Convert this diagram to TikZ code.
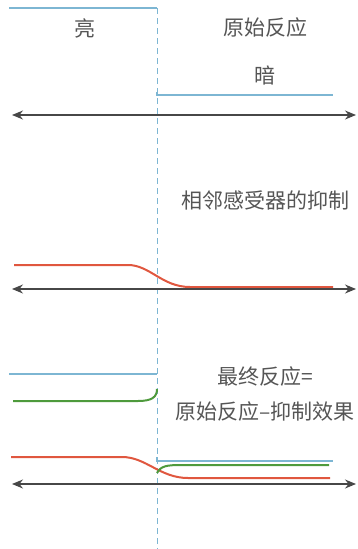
\documentclass[tikz,border=0pt]{standalone}
\usepackage{fontspec}
\newfontfamily\cjk{Noto Sans CJK SC}
\usetikzlibrary{arrows.meta}
\definecolor{lblue}{HTML}{7DB6D3}
\definecolor{rred}{HTML}{E0573F}
\definecolor{ggreen}{HTML}{4E9A3C}
\definecolor{axisc}{HTML}{474747}
\definecolor{txtc}{HTML}{555555}
\tikzset{
  blueline/.style={lblue, line width=1.4pt},
  redline/.style={rred, line width=2pt},
  greenline/.style={ggreen, line width=2pt},
  axisline/.style={axisc, line width=1.2pt, {Stealth[length=11pt,width=9pt]}-{Stealth[length=11pt,width=9pt]}},
  divline/.style={lblue, line width=0.8pt, dash pattern=on 6pt off 4pt},
  lbl/.style={text=txtc, font=\cjk\fontsize{21}{25}\selectfont, inner sep=0pt}
}
\begin{document}
\begin{tikzpicture}[x=1pt,y=-1pt]
\useasboundingbox (0,0) rectangle (358,549);
% divider
\coordinate (dtop) at (157,8);
\coordinate (dbot) at (157,549);
\draw[divline] (dtop) -- (dbot);
% section 1
\draw[blueline] (9,8) -- (157,8);
\draw[blueline] (157,92) -- (157,95) -- (333,95);
\node[lbl] (bright) at (85,28) {亮};
\node[lbl] (orig) at (265,28) {原始反应};
\node[lbl] (dark) at (265,75) {暗};
\coordinate (a1l) at (12,115);
\coordinate (a1r) at (356,115);
\draw[axisline] (a1l) -- (a1r);
% section 2
\node[lbl] (inhib) at (265,200) {相邻感受器的抑制};
\draw[redline] (14,265) -- (128,265) .. controls (150,265) and (162,287) .. (190,287) -- (333,287);
\coordinate (a2l) at (12,289);
\coordinate (a2r) at (356,289);
\draw[axisline] (a2l) -- (a2r);
% section 3
\draw[blueline] (9,374) -- (157,374);
\draw[greenline] (13,401) -- (138,401) .. controls (152,401) and (157,397) .. (157,389);
\node[lbl] (final1) at (265,377) {最终反应=};
\node[lbl] (final2) at (265,412) {原始反应–抑制效果};
\draw[redline] (11,457) -- (122,457) .. controls (146,457) and (160,478) .. (188,478) -- (330,478);
\draw[blueline] (157,457) -- (157,461) -- (333,461);
\draw[greenline] (157,473) .. controls (161,466) and (166,465) .. (182,465) -- (329,465);
\coordinate (a3l) at (12,484);
\coordinate (a3r) at (356,484);
\draw[axisline] (a3l) -- (a3r);
\end{tikzpicture}
\end{document}
